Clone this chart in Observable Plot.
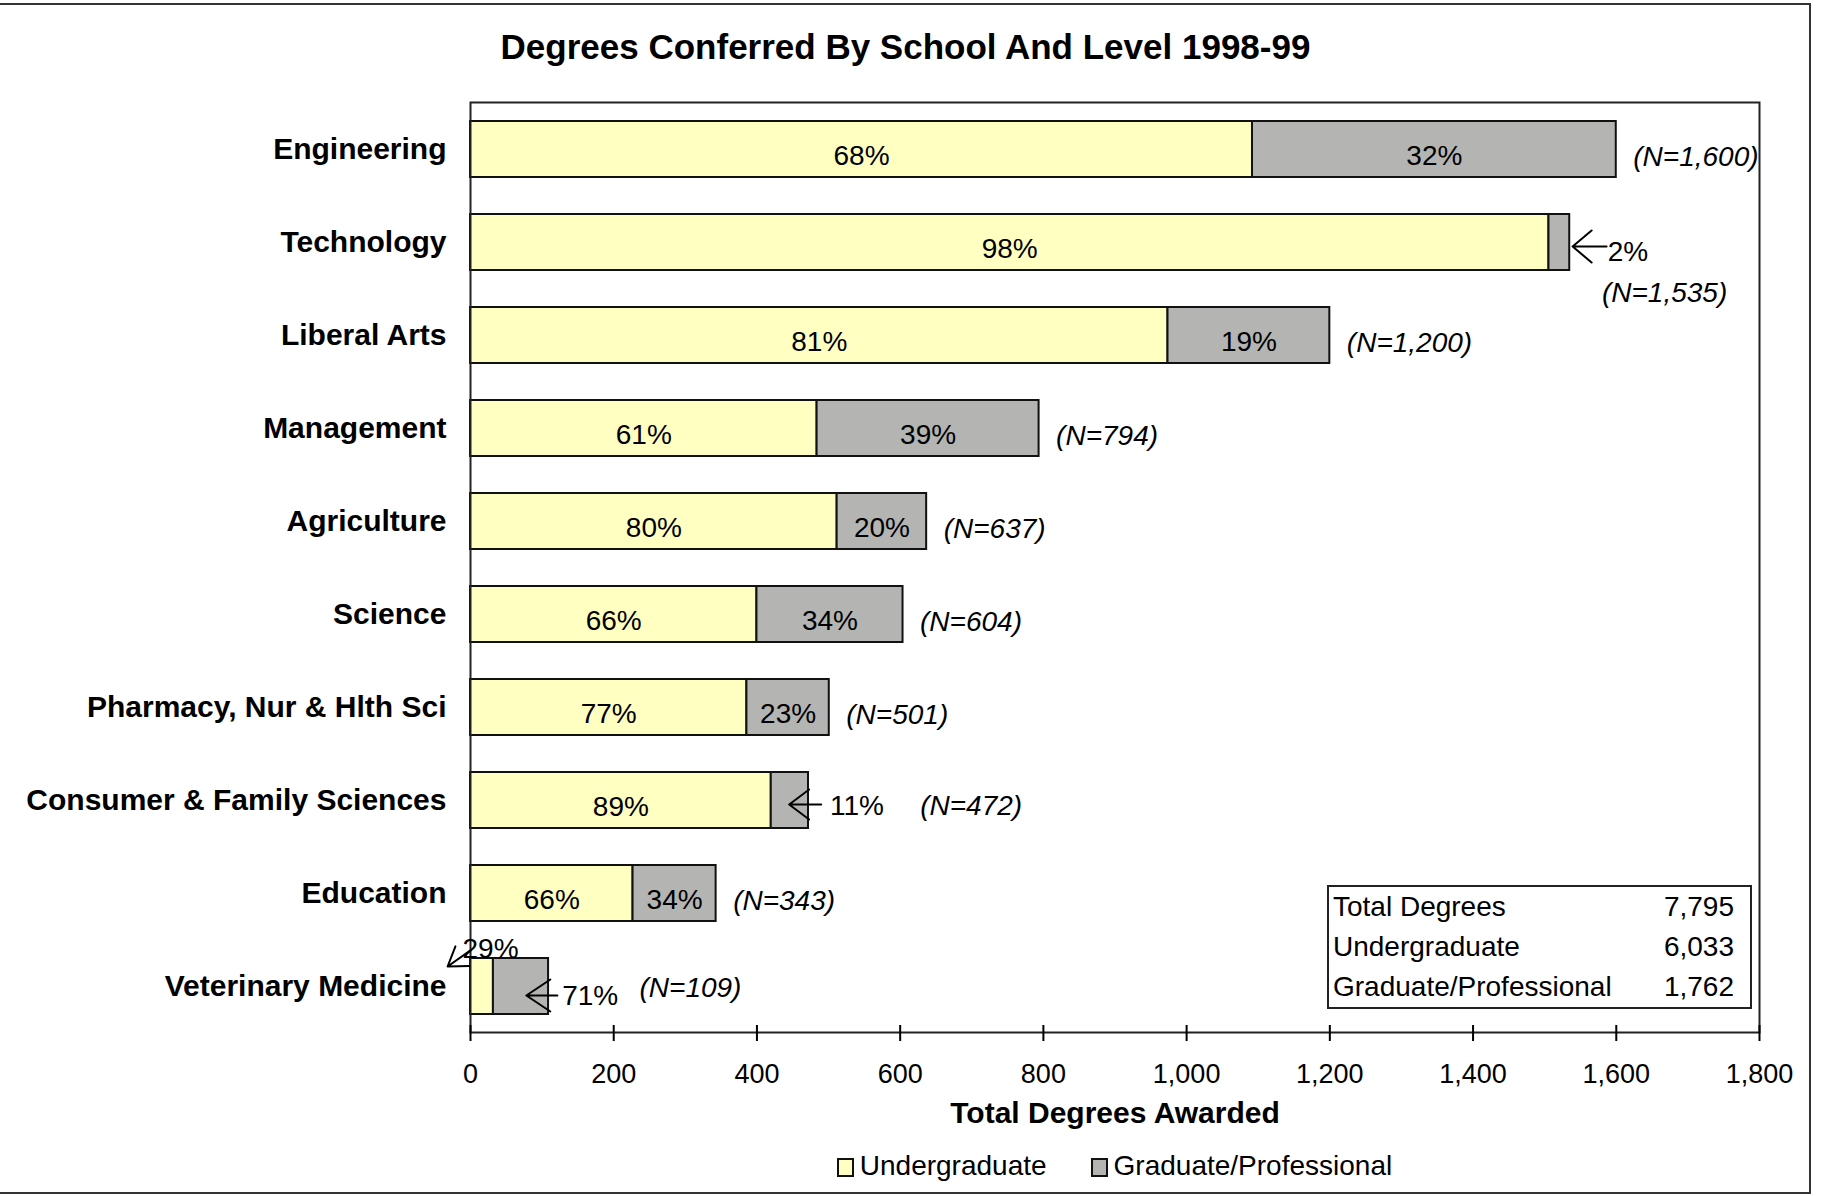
<!DOCTYPE html>
<html>
<head>
<meta charset="utf-8">
<script src="https://cdn.jsdelivr.net/npm/d3@7"></script>
<script src="https://cdn.jsdelivr.net/npm/@observablehq/plot@0.6"></script>
<style>
  body { margin: 0; background: #fff; }
  #chart { position: relative; width: 1825px; height: 1196px; overflow: hidden;
           font-family: "Liberation Sans", Arial, sans-serif; color: #000; background: #fff; }
  #border { position: absolute; left: -4px; top: 3px; width: 1815px; height: 1191px;
            border: 2px solid #333; box-sizing: border-box; pointer-events: none; }
  #title { position: absolute; left: 0; width: 1811px; top: 27px; line-height: 40px;
           text-align: center; font-size: 35px; font-weight: bold; white-space: nowrap; }
  #plot { position: absolute; left: 0; top: 0; }
  #totals { position: absolute; left: 1327px; top: 885px; width: 425px; height: 124px;
            border: 2px solid #222; box-sizing: border-box; background: #fff; font-size: 28px; }
  #totals .row { display: flex; justify-content: space-between; height: 40px; line-height: 40px;
                 padding: 0 16px 0 4px; }
  #legend { position: absolute; left: 470px; width: 1289px; top: 1151px; line-height: 30px;
            text-align: center; font-size: 28px; white-space: nowrap; }
  #legend .item { margin: 0 22px; }
  #legend .sw { display: inline-block; width: 13px; height: 15px; border: 2px solid #111;
                vertical-align: -2px; margin-right: 6px; }
</style>
</head>
<body>
<div id="chart">
  <div id="title"></div>
  <div id="plot"></div>
  <div id="totals"></div>
  <div id="legend"></div>
  <div id="border"></div>
</div>
<script>
// ---- Data ----
const titleText = "Degrees Conferred By School And Level 1998-99";
const xAxisTitle = "Total Degrees Awarded";
const schools = [
  "Engineering", "Technology", "Liberal Arts", "Management", "Agriculture",
  "Science", "Pharmacy, Nur & Hlth Sci", "Consumer & Family Sciences",
  "Education", "Veterinary Medicine"
];
const levels = ["Undergraduate", "Graduate/Professional"];
const undergraduate = [1092, 1506, 974, 484, 512, 400, 386, 420, 227, 32];
const graduate      = [508, 29, 226, 310, 125, 204, 115, 52, 116, 77];
const xTicks = [0, 200, 400, 600, 800, 1000, 1200, 1400, 1600, 1800];
const totalsLabels = ["Total Degrees", "Undergraduate", "Graduate/Professional"];

// ---- Styles ----
const yellow = "#ffffc2";
const grey = "#b4b5b2";
const fmt = d3.format(",");

// ---- Derived tables ----
const totals = schools.map((s, i) => undergraduate[i] + graduate[i]);
const rows = [];
schools.forEach((s, i) => {
  const t = totals[i];
  rows.push({school: s, level: levels[0], x1: 0, x2: undergraduate[i],
             pct: Math.round(100 * undergraduate[i] / t) + "%"});
  rows.push({school: s, level: levels[1], x1: undergraduate[i], x2: t,
             pct: Math.round(100 * graduate[i] / t) + "%"});
});
const nRows = schools.map((s, i) => ({school: s, total: totals[i], label: `(N=${fmt(totals[i])})`}));

// Callouts: segments whose labels sit outside the bar, with an arrow (annotation layout in data units)
const callouts = [
  {school: "Technology", level: levels[1], textX: 1588, textDy: 10, anchor: "start", tipX: 1539, arrowDy: 4, rotate: 270, length: 34, wing: 16, back: 19},
  {school: "Consumer & Family Sciences", level: levels[1], textX: 502, textDy: 6, anchor: "start", tipX: 445, arrowDy: 4, rotate: 270, length: 32, wing: 15, back: 20},
  {school: "Veterinary Medicine", level: levels[1], textX: 128, textDy: 10, anchor: "start", tipX: 78, arrowDy: 9, rotate: 270, length: 31, wing: 16, back: 24},
  {school: "Veterinary Medicine", level: levels[0], textX: 28, textDy: -37, anchor: "middle", tipX: -32, arrowDy: -20, rotate: 235, length: 28, wing: 12, back: 18}
].map(c => ({...c, pct: rows.find(r => r.school === c.school && r.level === c.level).pct}));
const calloutKeys = new Set(callouts.map(c => c.school + "|" + c.level));
const insideRows = rows.filter(r => !calloutKeys.has(r.school + "|" + r.level));

// N-label placement exceptions (data units / px offsets)
const nSpecial = {
  "Technology": {x: 1580, dy: 51},
  "Consumer & Family Sciences": {x: 628, dy: 6},
  "Veterinary Medicine": {x: 236, dy: 2}
};

const openArrow = (wing, back) => ({
  draw(context, l) {
    context.moveTo(0, 0);
    context.lineTo(0, -l);
    context.moveTo(-wing, -l + back);
    context.lineTo(0, -l);
    context.lineTo(wing, -l + back);
  }
});

const plot = Plot.plot({
  width: 1825,
  height: 1140,
  marginTop: 102,
  marginBottom: 108,
  marginLeft: 470,
  marginRight: 66,
  style: {fontFamily: '"Liberation Sans", Arial, sans-serif', fontSize: "28px", color: "#000", background: "transparent", overflow: "visible"},
  x: {domain: [0, 1800]},
  y: {domain: schools, paddingInner: 0.4, paddingOuter: 0.2},
  color: {domain: levels, range: [yellow, grey]},
  marks: [
    Plot.barX(rows, {x1: "x1", x2: "x2", y: "school", fill: "level", stroke: "#111", strokeWidth: 2}),
    Plot.frame({stroke: "#222", strokeWidth: 2}),
    Plot.ruleX(xTicks, {insetTop: 923, stroke: "#000", strokeWidth: 2}),
    Plot.axisX({ticks: xTicks, tickFormat: fmt, tickSize: 9, tickPadding: 22, strokeWidth: 2, fontSize: 27, label: null}),
    Plot.axisY({tickSize: 0, tickPadding: 24, fontWeight: "bold", fontSize: 30, label: null}),
    Plot.text([xAxisTitle], {frameAnchor: "bottom", text: d => d, dy: 81, fontWeight: "bold", fontSize: 30, lineAnchor: "middle"}),
    Plot.text(insideRows, {x: d => (d.x1 + d.x2) / 2, y: "school", text: "pct", dy: 7, fontSize: 28}),
    Plot.text(nRows.filter(d => !nSpecial[d.school]), {x: "total", y: "school", text: "label", dx: 17, dy: 8, textAnchor: "start", fontStyle: "italic", fontSize: 28}),
    ...nRows.filter(d => nSpecial[d.school]).map(d =>
      Plot.text([d], {x: () => nSpecial[d.school].x, y: "school", text: "label", dy: nSpecial[d.school].dy, textAnchor: "start", fontStyle: "italic", fontSize: 28})
    ),
    ...callouts.flatMap(c => [
      Plot.text([c], {x: "textX", y: "school", text: "pct", dy: c.textDy, textAnchor: c.anchor, fontSize: 28}),
      Plot.vector([c], {x: "tipX", y: "school", length: c.length, rotate: c.rotate, anchor: "end",
                        shape: openArrow(c.wing, c.back), stroke: "#000", strokeWidth: 2, dy: c.arrowDy})
    ])
  ]
});
document.getElementById("plot").appendChild(plot);

// Title
document.getElementById("title").textContent = titleText;

// Totals box
const totalsValues = [d3.sum(totals), d3.sum(undergraduate), d3.sum(graduate)];
const totalsDiv = document.getElementById("totals");
totalsLabels.forEach((lab, i) => {
  const r = document.createElement("div");
  r.className = "row";
  r.innerHTML = `<span>${lab}</span><span>${fmt(totalsValues[i])}</span>`;
  totalsDiv.appendChild(r);
});

// Legend
const legendDiv = document.getElementById("legend");
levels.forEach((lev, i) => {
  const item = document.createElement("span");
  item.className = "item";
  item.innerHTML = `<span class="sw" style="background:${[yellow, grey][i]}"></span>${lev}`;
  legendDiv.appendChild(item);
});
</script>
</body>
</html>
